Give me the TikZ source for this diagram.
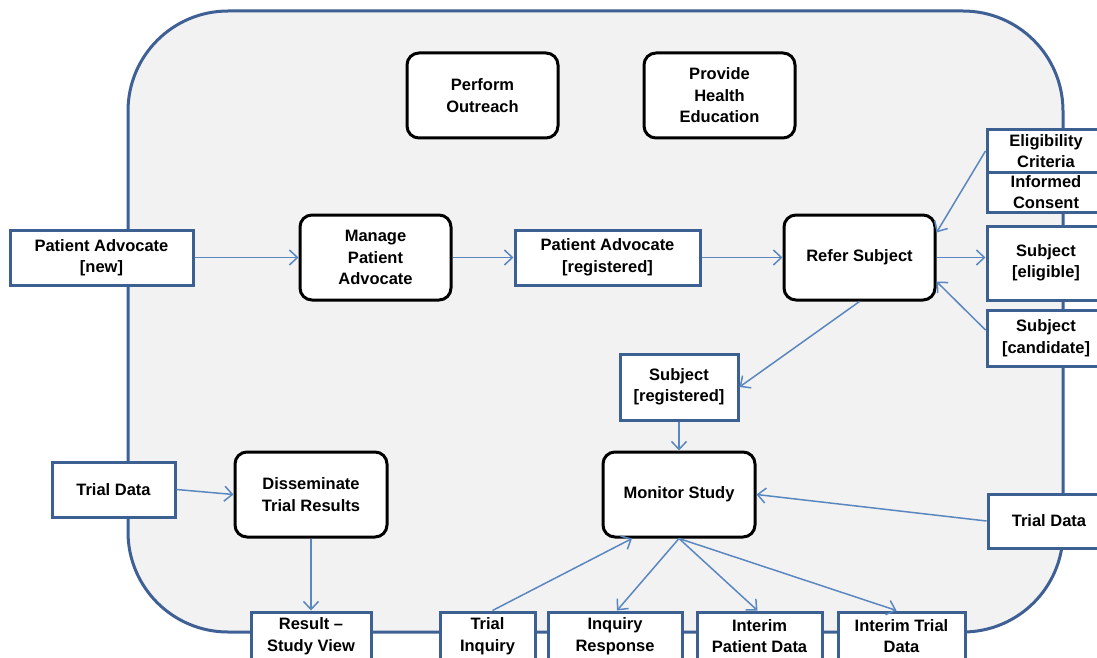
\documentclass[tikz,border=0pt]{standalone}
\usepackage{fontspec}
\setmainfont{Liberation Sans}
\usetikzlibrary{arrows.meta}
\definecolor{frameblue}{RGB}{62,96,148}
\definecolor{boxblue}{RGB}{60,96,146}
\definecolor{flowblue}{RGB}{91,135,192}
\definecolor{panel}{RGB}{242,242,242}
\tikzset{
  lbl/.style={font=\fontsize{16.5}{21.5}\selectfont\bfseries, align=center, inner sep=0pt},
  proc/.style={lbl, draw=black, line width=3pt, fill=white, rounded corners=12pt},
  obj/.style={lbl, draw=boxblue, line width=3pt, fill=white},
  sz/.style n args={2}{minimum width=#1pt, minimum height=#2pt},
  flow/.style={draw=flowblue, line width=1.5pt, -{Straight Barb[length=8pt,width=15pt,line width=1.5pt]}},
}
\begin{document}
\begin{tikzpicture}[x=1pt,y=-1pt]
\useasboundingbox (0,0) rectangle (1097,658);
\clip (0,0) rectangle (1097,658);

% outer frame
\draw[draw=frameblue, line width=3pt, fill=panel, rounded corners=100pt] (128,11) rectangle (1063,632);

% activities
\node[proc, sz={151}{85}] (outreach) at (482.5,95.5) {Perform\\Outreach};
\node[proc, sz={151}{85}] (educ) at (719.5,95.5) {Provide\\Health\\Education};
\node[proc, sz={151}{85}] (manage) at (375.5,257.5) {Manage\\Patient\\Advocate};
\node[proc, sz={151}{85}] (refer) at (859.5,257.5) {Refer Subject};
\node[proc, sz={152}{85}] (monitor) at (679,494.5) {Monitor Study};
\node[proc, sz={152}{85}] (dissem) at (311,494.5) {Disseminate\\Trial Results};

% objects
\node[obj, sz={183}{55}] (panew) at (101.5,257.5) {Patient Advocate\\{[new]}};
\node[obj, sz={185}{55}] (pareg) at (607.5,257.5) {Patient Advocate\\{[registered]}};
\node[obj, sz={118}{42}] (elig) at (1046,151) {Eligibility\\Criteria};
\node[obj, sz={118}{40}] (consent) at (1046,192) {Informed\\Consent};
\node[obj, sz={118}{74}] (subel) at (1046,263) {Subject\\{[eligible]}};
\node[obj, sz={118}{56}] (subcand) at (1046,338) {Subject\\{[candidate]}};
\node[obj, sz={118}{66}] (subreg) at (679,387) {Subject\\{[registered]}};
\node[obj, sz={123}{55}] (tdl) at (113.5,489.5) {Trial Data};
\node[obj, sz={122}{54}] (tdr) at (1049,521) {Trial Data};
\node[obj, sz={120}{48}] (result) at (311,636) {Result –\\Study View};
\node[obj, sz={95}{48}] (trialinq) at (487.5,636) {Trial\\Inquiry};
\node[obj, sz={134}{48}] (inqresp) at (615,636) {Inquiry\\Response};
\node[obj, sz={125}{48}] (intpat) at (759.5,636) {Interim\\Patient Data};
\node[obj, sz={127}{48}] (inttrial) at (901.5,636) {Interim Trial\\Data};

% flows
\draw[flow] (panew.east) -- (manage.west);
\draw[flow] (manage.east) -- (pareg.west);
\draw[flow] (pareg.east) -- (refer.west);
\draw[flow] (elig.west) -- ([yshift=25pt]refer.east);
\draw[flow] (refer.east) -- (refer.east -| subel.west);
\draw[flow] ([yshift=8pt]subcand.west) -- ([yshift=-24pt]refer.east);
\draw[flow] (refer.south) -- (subreg.east);
\draw[flow] (subreg.south) -- (monitor.north);
\draw[flow] (tdl.east) -- (dissem.west);
\draw[flow] (dissem.south) -- (result.north);
\draw[flow] (tdr.west) -- (monitor.east);
\draw[flow] ([xshift=5pt]trialinq.north) -- ([xshift=-47pt]monitor.south);
\draw[flow] (monitor.south) -- ([xshift=2pt]inqresp.north);
\draw[flow] (monitor.south) -- ([xshift=-2pt]intpat.north);
\draw[flow] (monitor.south) -- ([xshift=-5pt]inttrial.north);
\end{tikzpicture}
\end{document}
